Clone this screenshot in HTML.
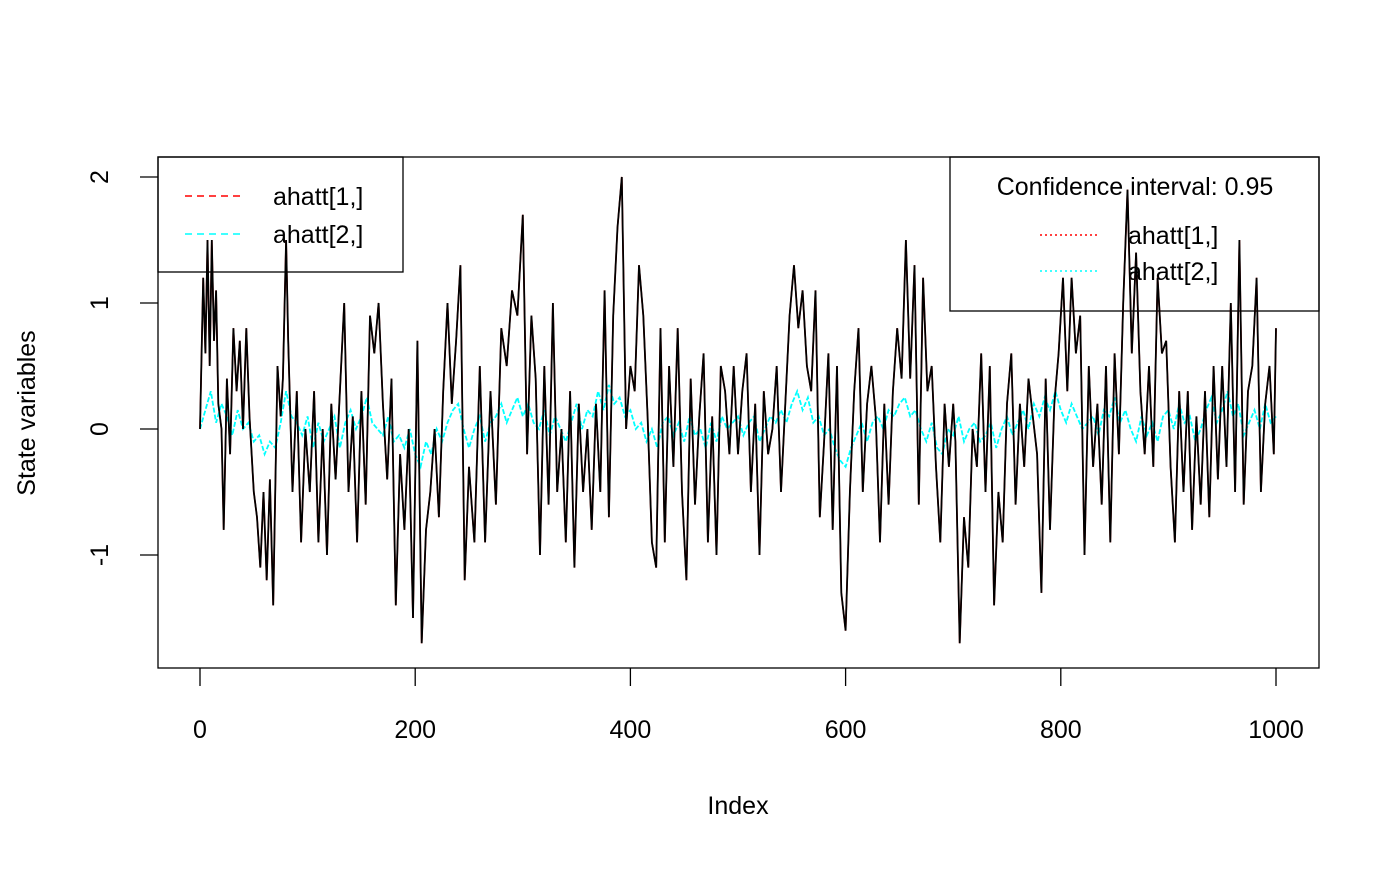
<!DOCTYPE html>
<html><head><meta charset="utf-8"><style>
html,body{margin:0;padding:0;background:#fff;}
svg text{font-family:"Liberation Sans",Arial,sans-serif;font-size:25px;fill:#000;}
</style></head><body>
<svg id="chart" width="1400" height="865" xmlns="http://www.w3.org/2000/svg">
<rect x="158" y="157" width="1161" height="511" fill="none" stroke="#000" stroke-width="1.3"/>
<g>
<rect x="158" y="157" width="245" height="115" fill="none" stroke="#000" stroke-width="1.3"/>
<line x1="185" y1="196" x2="245" y2="196" stroke="#ff0000" stroke-width="1.6" stroke-dasharray="7,5"/>
<text x="273" y="205">ahatt[1,]</text>
<line x1="185" y1="234" x2="245" y2="234" stroke="#00ffff" stroke-width="1.6" stroke-dasharray="7,5"/>
<text x="273" y="243">ahatt[2,]</text>
</g>
<g>
<rect x="950" y="157" width="369" height="154" fill="none" stroke="#000" stroke-width="1.3"/>
<text x="1135" y="195" text-anchor="middle">Confidence interval: 0.95</text>
<line x1="1040" y1="235" x2="1100" y2="235" stroke="#ff0000" stroke-width="1.6" stroke-dasharray="2,3"/>
<text x="1128" y="244">ahatt[1,]</text>
<line x1="1040" y1="271" x2="1100" y2="271" stroke="#00ffff" stroke-width="1.6" stroke-dasharray="2,3"/>
<text x="1128" y="280">ahatt[2,]</text>
</g>
<g id="marks"></g>
<g id="axes"></g>
<text x="738" y="814" text-anchor="middle">Index</text>
<text transform="translate(35,413) rotate(-90)" text-anchor="middle">State variables</text>
</svg>
<script>
const xTicks=[0,200,400,600,800,1000];
const yTicks=[-1,0,1,2];
const a1Index=[0,3,5,7,9,11,13,15,17,20,
22,25,28,31,34,37,40,43,46,50,53,56,59,62,65,68,72,75,77,80,82,86,
90,94,98,102,106,110,114,118,122,126,130,134,138,142,146,150,154,158,162,166,170,
174,178,182,186,190,194,198,202,206,210,214,218,222,226,230,234,238,242,246,250,
255,260,265,270,275,280,285,290,295,300,304,308,312,316,320,324,328,332,336,340,
344,348,352,356,360,364,368,372,376,380,384,388,392,396,400,404,408,412,416,420,
424,428,432,436,440,444,448,452,456,460,464,468,472,476,480,484,488,492,496,500,
504,508,512,516,520,524,528,532,536,540,544,548,552,556,560,564,568,572,576,580,
584,588,592,596,600,604,608,612,616,620,624,628,632,636,640,644,648,652,656,660,
664,668,672,676,680,684,688,692,696,700,702,706,710,714,718,722,726,730,734,738,
742,746,750,754,758,762,766,770,774,778,782,786,790,794,798,802,806,810,814,818,
822,826,830,834,838,842,846,850,854,858,862,866,870,874,878,882,886,890,894,898,
902,906,910,914,918,922,926,930,934,938,942,946,950,954,958,962,966,970,974,978,
982,986,990,994,998,1000];
const a1Values=[0,1.2,0.6,1.5,0.5,1.5,0.7,1.1,0.2,0,
-0.8,0.4,-0.2,0.8,0.3,0.7,0,0.8,0.1,-0.5,-0.7,-1.1,-0.5,-1.2,-0.4,-1.4,0.5,0.1,0.4,1.5,0.7,-0.5,
0.3,-0.9,0,-0.5,0.3,-0.9,0,-1.0,0.2,-0.4,0.3,1.0,-0.5,0.1,-0.9,0.3,-0.6,0.9,0.6,1.0,0.2,
-0.4,0.4,-1.4,-0.2,-0.8,0,-1.5,0.7,-1.7,-0.8,-0.5,0,-0.7,0.3,1.0,0.2,0.7,1.3,-1.2,-0.3,
-0.9,0.5,-0.9,0.3,-0.6,0.8,0.5,1.1,0.9,1.7,-0.2,0.9,0.4,-1.0,0.5,-0.6,1.0,-0.5,0,-0.9,
0.3,-1.1,0.2,-0.5,0,-0.8,0.2,-0.5,1.1,-0.7,0.9,1.6,2.0,0,0.5,0.3,1.3,0.9,0.1,-0.9,
-1.1,0.8,-0.9,0.5,-0.3,0.8,-0.5,-1.2,0.4,-0.6,0.1,0.6,-0.9,0.1,-1.0,0.5,0.3,-0.2,0.5,-0.2,
0.3,0.6,-0.5,0.2,-1.0,0.3,-0.2,0,0.5,-0.5,0.2,0.9,1.3,0.8,1.1,0.5,0.3,1.1,-0.7,-0.1,
0.6,-0.8,0.5,-1.3,-1.6,-0.5,0.3,0.8,-0.5,0.2,0.5,0.1,-0.9,0.2,-0.6,0.3,0.8,0.4,1.5,0.4,
1.3,-0.6,1.2,0.3,0.5,-0.3,-0.9,0.2,-0.3,0.2,-0.1,-1.7,-0.7,-1.1,0,-0.3,0.6,-0.5,0.5,-1.4,
-0.5,-0.9,0.2,0.6,-0.6,0.2,-0.3,0.4,0.1,-0.2,-1.3,0.4,-0.8,0.2,0.6,1.2,0.3,1.2,0.6,0.9,
-1.0,0.5,-0.3,0.2,-0.6,0.5,-0.9,0.6,-0.2,1.0,1.9,0.6,1.4,0.3,-0.2,0.5,-0.3,1.2,0.6,0.7,
-0.3,-0.9,0.3,-0.5,0.3,-0.8,0.1,-0.6,0.3,-0.7,0.5,-0.4,0.5,-0.3,1.0,-0.5,1.5,-0.6,0.3,0.5,
1.2,-0.5,0.2,0.5,-0.2,0.8,0.2];
const a2Values=[0,0.15,0.3,0.05,0.2,0.1,-0.05,0.15,0,0.05,-0.1,-0.05,-0.2,-0.1,-0.15,0.05,0.3,0.1,0.05,-0.05,
0.1,-0.15,0.05,-0.1,0,0.1,-0.15,0.05,0.15,0,0.1,0.25,0.05,0,-0.05,0.1,-0.1,-0.05,-0.15,0,
-0.2,-0.3,-0.1,-0.2,0,-0.1,0.05,0.15,0.2,0,-0.15,0,0.1,-0.1,0.05,0.1,0.2,0.05,0.15,0.25,
0.1,0.2,0.05,0,0.15,-0.05,0.1,0,-0.1,0.05,0.2,0,0.15,0.1,0.3,0.15,0.35,0.2,0.25,0.1,
0.15,0,0.05,-0.1,0,-0.15,0.05,0.1,-0.05,0.05,-0.1,0.1,-0.05,0,-0.15,0.05,-0.1,0.1,0,0.05,
0.1,-0.05,0.05,0.1,-0.1,0,0.1,0.05,0.15,0.05,0.2,0.3,0.15,0.25,0.05,0.1,-0.05,0,-0.15,-0.25,
-0.3,-0.15,-0.05,0.05,-0.1,0.05,0.1,0,0.15,0.1,0.2,0.25,0.1,0.15,0,-0.1,0.05,-0.15,-0.2,0,
-0.05,0.1,-0.1,0,0.05,-0.1,-0.05,0.05,-0.15,0,0.1,-0.05,0.05,0.15,0,0.2,0.1,0.25,0.15,0.3,
0.15,0.05,0.2,0.1,0,0.05,0.1,-0.05,0.15,0.1,0.25,0.05,0.15,0,-0.1,0.1,-0.05,0.05,-0.1,0.1,
0.15,0,0.2,0.05,0.1,-0.1,0,0.15,0.25,0.05,0.15,0.3,0.1,0.2,-0.05,0.05,0.15,0,0.2,0.05,0.1];
const X=i=>200+i*1.076;
const Y=v=>429-v*126;
const NS="http://www.w3.org/2000/svg";
const marks=document.getElementById('marks'), axes=document.getElementById('axes');
function mk(t,attrs,parent){const e=document.createElementNS(NS,t);for(const k in attrs)e.setAttribute(k,attrs[k]);parent.appendChild(e);return e;}
function pathOf(xs,vs){return xs.map((x,k)=>(k?'L':'M')+X(x).toFixed(1)+','+Y(vs[k]).toFixed(1)).join('');}
const a2Index=a2Values.map((v,k)=>k*1000/(a2Values.length-1));
const red=mk('path',{d:pathOf(a1Index,a1Values),fill:'none',stroke:'#ff0000','stroke-width':1.6},marks);


const cyan=mk('path',{d:pathOf(a2Index,a2Values),fill:'none',stroke:'#00ffff','stroke-width':1.8,'stroke-dasharray':'5,2'},marks);


const blk=mk('path',{d:pathOf(a1Index,a1Values),fill:'none',stroke:'#000','stroke-width':1.8},marks);


xTicks.forEach(t=>{
 const l=mk('line',{x1:X(t),x2:X(t),y1:668,y2:686,stroke:'#000','stroke-width':1.3},axes);
 
 
 const tx=mk('text',{x:X(t),y:738,'text-anchor':'middle'},axes);tx.textContent=t;
 
 
});
yTicks.forEach(t=>{
 const l=mk('line',{x1:140,x2:158,y1:Y(t),y2:Y(t),stroke:'#000','stroke-width':1.3},axes);
 
 
 const tx=mk('text',{transform:`translate(108,${Y(t)}) rotate(-90)`,'text-anchor':'middle'},axes);tx.textContent=t;
 
 
});
</script>
</body></html>
